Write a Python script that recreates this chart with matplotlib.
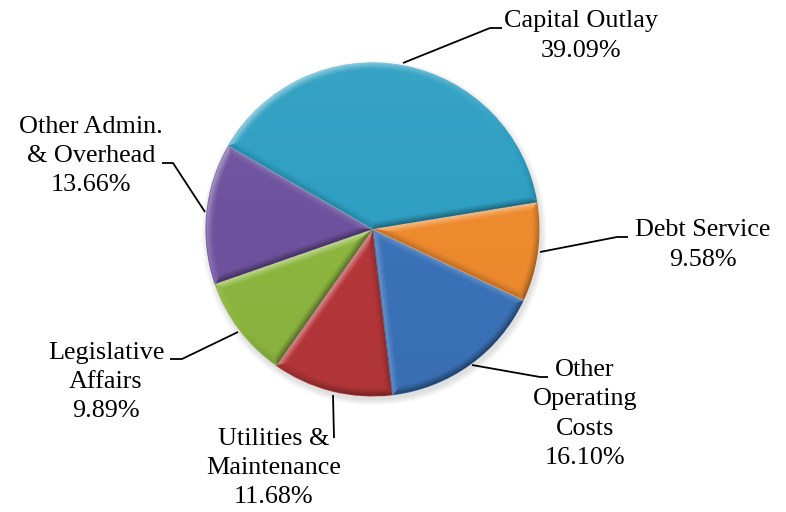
import numpy as np
import matplotlib
matplotlib.use("Agg")
import matplotlib.pyplot as plt
from matplotlib.patches import Circle

# Budget shares by category (percent)
categories = ["Capital Outlay", "Debt Service", "Other Operating Costs",
              "Utilities & Maintenance", "Legislative Affairs",
              "Other Admin. & Overhead"]
shares = [39.09, 9.58, 16.10, 11.68, 9.89, 13.66]
label_names = ["Capital Outlay", "Debt Service", "Other\nOperating\nCosts",
               "Utilities &\nMaintenance", "Legislative\nAffairs",
               "Other Admin.\n& Overhead"]
slice_colors = ["#2F9FC2", "#EE8A2E", "#3B72B8", "#B5373A", "#8DB640", "#6E529E"]

# Layout in pixel units (y measured from top)
W, H = 786, 512
CX, CY_TOP, R = 372.5, 229.5, 167.0
CY = H - CY_TOP
label_xy = [(581, 36), (703, 245), (585, 414), (274, 468), (106, 382), (91, 156)]
leaders = [
    [(403, 63), (490, 28), (502, 28)],
    [(540, 252), (617, 237), (628, 237)],
    [(472, 365), (540, 377), (548, 377)],
    [(333, 395), (334, 438)],
    [(238, 332), (182, 359), (170, 359)],
    [(205, 212), (173, 163), (162, 163)],
]

fig = plt.figure(figsize=(W / 100, H / 100), dpi=100)
ax = fig.add_axes([0, 0, 1, 1])

# soft drop shadow under the pie
for i in range(8):
    ax.add_patch(Circle((CX + 1.5, CY - 3.5), R + 0.8 * i, facecolor="black",
                        edgecolor="none", alpha=0.014, zorder=0))

wedges, _ = ax.pie(shares, colors=slice_colors, startangle=150, counterclock=False,
                   radius=R, center=(CX, CY), wedgeprops=dict(linewidth=0))
for w in wedges:
    w.set_zorder(1)

ax.set_xlim(0, W)
ax.set_ylim(0, H)
ax.set_aspect("equal")
ax.axis("off")

# bevel shading on each slice, lit from the upper left
n = 700
xs = np.linspace(CX - R, CX + R, n)
ys = np.linspace(CY - R, CY + R, n)
X, Y = np.meshgrid(xs, ys)
dx, dy = X - CX, Y - CY
r = np.hypot(dx, dy)
th = np.degrees(np.arctan2(dy, dx)) % 360
light = np.array([-0.6, 0.8])
bevel = 8.0
val = np.zeros_like(r)
for w in wedges:
    t1, t2 = w.theta1, w.theta2
    span = t2 - t1
    rel = (th - t1) % 360
    inside = rel < span
    rel2 = span - rel
    d1 = np.where(rel < 90, r * np.sin(np.radians(rel)), r)
    d2 = np.where(rel2 < 90, r * np.sin(np.radians(rel2)), r)
    d3 = R - r
    a1 = np.radians(t1 - 90)
    a2 = np.radians(t2 + 90)
    n1 = np.cos(a1) * light[0] + np.sin(a1) * light[1]
    n2 = np.cos(a2) * light[0] + np.sin(a2) * light[1]
    n3 = np.cos(np.radians(th)) * light[0] + np.sin(np.radians(th)) * light[1]
    d = np.minimum(np.minimum(d1, d2), d3)
    nd = np.where(d == d1, n1, np.where(d == d2, n2, n3))
    prof = np.clip(1 - d / bevel, 0, 1) ** 1.3
    v = nd * prof
    # gentle top-to-bottom gradient across the face
    v = v + 0.08 * (dy / R)
    val = np.where(inside, v, val)

rgba = np.zeros((n, n, 4))
pos = np.clip(val, 0, None)
neg = np.clip(-val, 0, None)
rgba[..., :3] = np.where(val[..., None] > 0, 1.0, 0.0)
rgba[..., 3] = np.where(val > 0, pos * 0.5, neg * 0.45)
rgba[r > R, 3] = 0
img = ax.imshow(rgba, origin="lower", extent=(CX - R, CX + R, CY - R, CY + R),
                interpolation="bilinear", zorder=2)
img.set_clip_path(Circle((CX, CY), R, transform=ax.transData))
ax.set_xlim(0, W)
ax.set_ylim(0, H)

for name, pct, (lx, ly), pts in zip(label_names, shares, label_xy, leaders):
    ax.text(lx, H - ly, f"{name}\n{pct:.2f}%", ha="center", va="center",
            family="Liberation Serif", fontsize=18.8, linespacing=1.43,
            color="black", zorder=5)
    px = [p[0] for p in pts]
    py = [H - p[1] for p in pts]
    ax.plot(px, py, color="black", lw=1.3, solid_capstyle="butt", zorder=4)

fig.savefig("out.png", dpi=100)
